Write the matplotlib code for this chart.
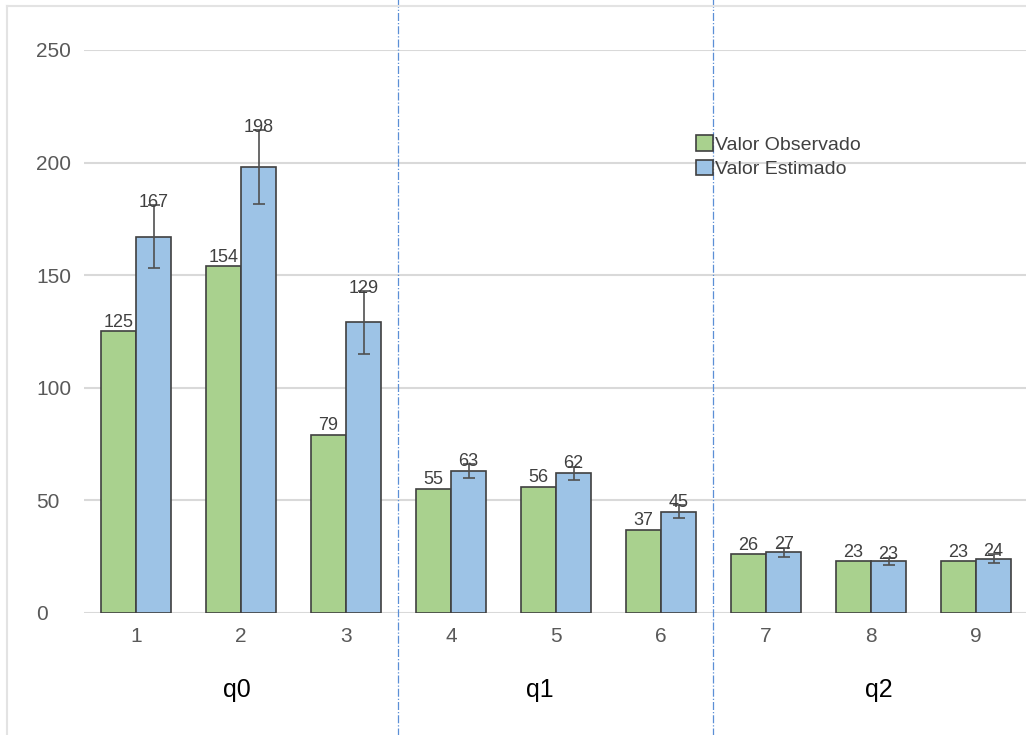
import numpy as np
import matplotlib
matplotlib.use("Agg")
import matplotlib.pyplot as plt
from matplotlib.lines import Line2D

categorias = ["1", "2", "3", "4", "5", "6", "7", "8", "9"]
observado = [125, 154, 79, 55, 56, 37, 26, 23, 23]
estimado = [167, 198, 129, 63, 62, 45, 27, 23, 24]
erro = [14, 16.5, 14, 3, 3, 3, 2, 1.5, 2]
grupos = ["q0", "q1", "q2"]
grupos_x = [1.96, 4.85, 8.07]
separadores = [3.5, 6.5]

plt.rcParams["font.family"] = ["Liberation Sans", "DejaVu Sans"]

fig = plt.figure(figsize=(10.26, 7.35), dpi=100)
ax = fig.add_axes([0.0814, 0.166, 0.921, 0.766])

x = np.arange(1, len(categorias) + 1)
w = 0.335
verde = "#A9D18E"
azul = "#9DC3E6"
borda = "#404040"

ax.bar(x - w / 2, observado, w, color=verde, edgecolor=borda, linewidth=1.2,
       label="Valor Observado", zorder=3)
ax.bar(x + w / 2, estimado, w, color=azul, edgecolor=borda, linewidth=1.2,
       label="Valor Estimado", zorder=3)
ax.errorbar(x + w / 2, estimado, yerr=erro, fmt="none", ecolor="#505050",
            elinewidth=1.2, capsize=4.5, capthick=1.2, zorder=4)

for xi, v in zip(x - w / 2, observado):
    ax.text(xi, v + 0.3, str(v), ha="center", va="bottom", fontsize=13,
            color="#404040", zorder=5)
for xi, v, e in zip(x + w / 2, estimado, erro):
    ax.text(xi, v + e - 2.5, str(v), ha="center", va="bottom", fontsize=13,
            color="#404040", zorder=5)

ax.set_xlim(0.5, 9.5)
ax.set_ylim(0, 250)
ax.set_yticks([0, 50, 100, 150, 200, 250])
ax.set_xticks(x)
ax.set_xticklabels(categorias)
ax.grid(axis="y", color="#d9d9d9", linewidth=1.5, zorder=0)
ax.set_axisbelow(True)
for s in ax.spines.values():
    s.set_visible(False)
ax.tick_params(length=0, labelsize=15, labelcolor="#595959")
ax.tick_params(axis="x", pad=10)
for lab in ax.get_yticklabels():
    lab.set_horizontalalignment("left")
ax.tick_params(axis="y", pad=34)

leg = ax.legend(loc="upper left", bbox_to_anchor=(0.64, 0.862), frameon=False,
                fontsize=14, handlelength=0.85, handleheight=0.85,
                handletextpad=0.1, labelspacing=0.3, borderaxespad=0)
for t in leg.get_texts():
    t.set_color("#404040")

for g, gx in zip(grupos, grupos_x):
    ax.text(gx, -0.137, g, transform=ax.get_xaxis_transform(), ha="center",
            va="center", fontsize=18, color="black")

for sx in separadores:
    ax.axvline(sx, ymin=-0.3, ymax=1.1, color="#5b8fd6", linestyle="-.",
               linewidth=0.9, clip_on=False, zorder=1)

# moldura leve da figura
fig.add_artist(Line2D([7 / 1026, 7 / 1026], [0, 1 - 6 / 735], color="#e3e3e3", linewidth=1.5))
fig.add_artist(Line2D([7 / 1026, 1], [1 - 6 / 735, 1 - 6 / 735], color="#e3e3e3", linewidth=1.5))

fig.savefig("out.png", dpi=100)
